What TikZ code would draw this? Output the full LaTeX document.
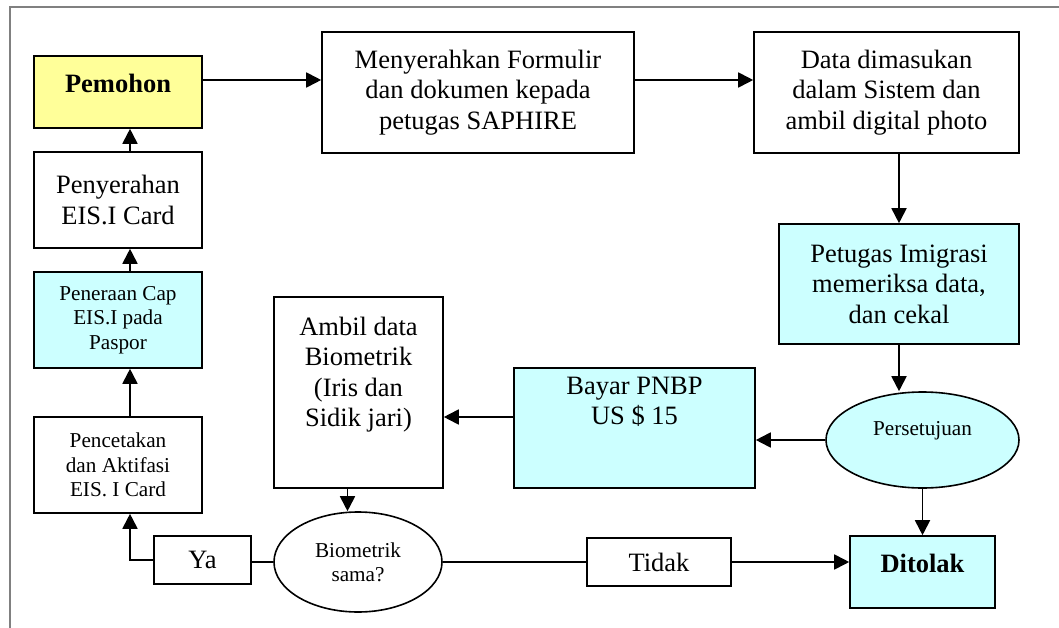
\documentclass[tikz,border=0pt]{standalone}
\usepackage{fontspec}
\setmainfont{Liberation Serif}
\usetikzlibrary{arrows.meta,shapes.geometric,calc}
\definecolor{paleyellow}{HTML}{FFFF99}
\definecolor{palecyan}{HTML}{CCFFFF}
\definecolor{framegray}{HTML}{808080}
\newcommand{\fsbig}{\fontsize{26.5}{30.5}\selectfont}
\newcommand{\fssmall}{\fontsize{21.2}{24.4}\selectfont}
\begin{document}
\begin{tikzpicture}[x=1pt,y=-1pt,
  box/.style={draw=black, line width=1.6pt, fill=white, inner sep=0pt, align=center, font=\fsbig},
  cyanbox/.style={box, fill=palecyan},
  smallbox/.style={box, font=\fssmall},
  oval/.style={ellipse, draw=black, line width=1.6pt, inner sep=0pt, align=center, font=\fssmall},
  arr/.style={draw=black, line width=1.8pt, -{Triangle[length=15pt,width=15pt]}},
  link/.style={draw=black, line width=1.8pt},
]
\useasboundingbox (0,0) rectangle (1059,628);
\fill[white] (0,0) rectangle (1059,628);
\draw[framegray, line width=2pt] (10,628) -- (10,7) -- (1059,7);

% top row
\node[box, fill=paleyellow, font=\fsbig\bfseries, minimum width=168pt, minimum height=72pt, text depth=18pt] (pem) at (118,92) {Pemohon};
\node[box, minimum width=312pt, minimum height=121pt] (men) at (478,92.5) {Menyerahkan Formulir\\dan dokumen kepada\\petugas SAPHIRE};
\node[box, minimum width=265pt, minimum height=121pt] (data) at (886.5,92.5) {Data dimasukan\\dalam Sistem dan\\ambil digital photo};

% right column
\node[cyanbox, minimum width=240pt, minimum height=120pt] (pet) at (899,284) {Petugas Imigrasi\\memeriksa data,\\dan cekal};
\node[oval, fill=palecyan, minimum width=193pt, minimum height=96pt, text depth=24pt] (pers) at (922.5,440) {Persetujuan};
\node[cyanbox, font=\fsbig\bfseries, minimum width=145pt, minimum height=72pt, text depth=17pt] (dit) at (922.5,572) {Ditolak};

% middle
\node[cyanbox, minimum width=241pt, minimum height=120pt] (bayar) at (634.5,428) {\parbox[t][102pt][t]{235pt}{\centering Bayar PNBP\\US \$ 15}};
\node[box, minimum width=169pt, minimum height=191pt] (ambil) at (358.5,392.5) {\parbox[t][151pt][t]{165pt}{\centering Ambil data\\Biometrik\\(Iris dan\\Sidik jari)}};
\node[oval, fill=white, minimum width=168pt, minimum height=100pt] (bio) at (358,562) {Biometrik\\sama?};
\node[box, minimum width=144pt, minimum height=48pt] (tidak) at (659,562) {Tidak};
\node[box, minimum width=97pt, minimum height=48pt] (ya) at (202.5,560) {Ya};

% left column
\node[smallbox, minimum width=168pt, minimum height=96pt] (penc) at (118,465) {Pencetakan\\dan Aktifasi\\EIS. I Card};
\node[smallbox, fill=palecyan, minimum width=168pt, minimum height=96pt] (pener) at (118,320) {Peneraan Cap\\EIS.I pada\\Paspor};
\node[box, minimum width=168pt, minimum height=96pt] (peny) at (118,200) {Penyerahan\\EIS.I Card};

% connectors
\draw[arr] ([yshift=12pt]pem.east) -- ([yshift=12pt]pem.east -| men.west);
\draw[arr] ([yshift=12.5pt]men.east) -- ([yshift=12.5pt]men.east -| data.west);
\draw[arr] (data.south -| pet.north) -- (pet.north);
\draw[arr] (pet.south) -- (pet.south |- pers.north);
\draw[arr] (pers.west) -- (pers.west -| bayar.east);
\draw[arr] (pers.south) -- (dit.north);
\draw[arr] ([yshift=11pt]bayar.west) -- ([yshift=11pt]bayar.west -| ambil.east);
\draw[arr] ([xshift=-11pt]ambil.south) -- ([xshift=-11pt]ambil.south |- bio.north);
\draw[link] (bio.east) -- (tidak.west);
\draw[arr] (tidak.east) -- (tidak.east -| dit.west);
\draw[link] (bio.west) -- (bio.west -| ya.east);
\draw[arr] (ya.west) -| ([xshift=12pt]penc.south);
\draw[arr] ([xshift=12pt]penc.north) -- ([xshift=12pt]pener.south);
\draw[arr] ([xshift=12pt]pener.north) -- ([xshift=12pt]peny.south);
\draw[arr] ([xshift=12pt]peny.north) -- ([xshift=12pt]pem.south);
\end{tikzpicture}
\end{document}
